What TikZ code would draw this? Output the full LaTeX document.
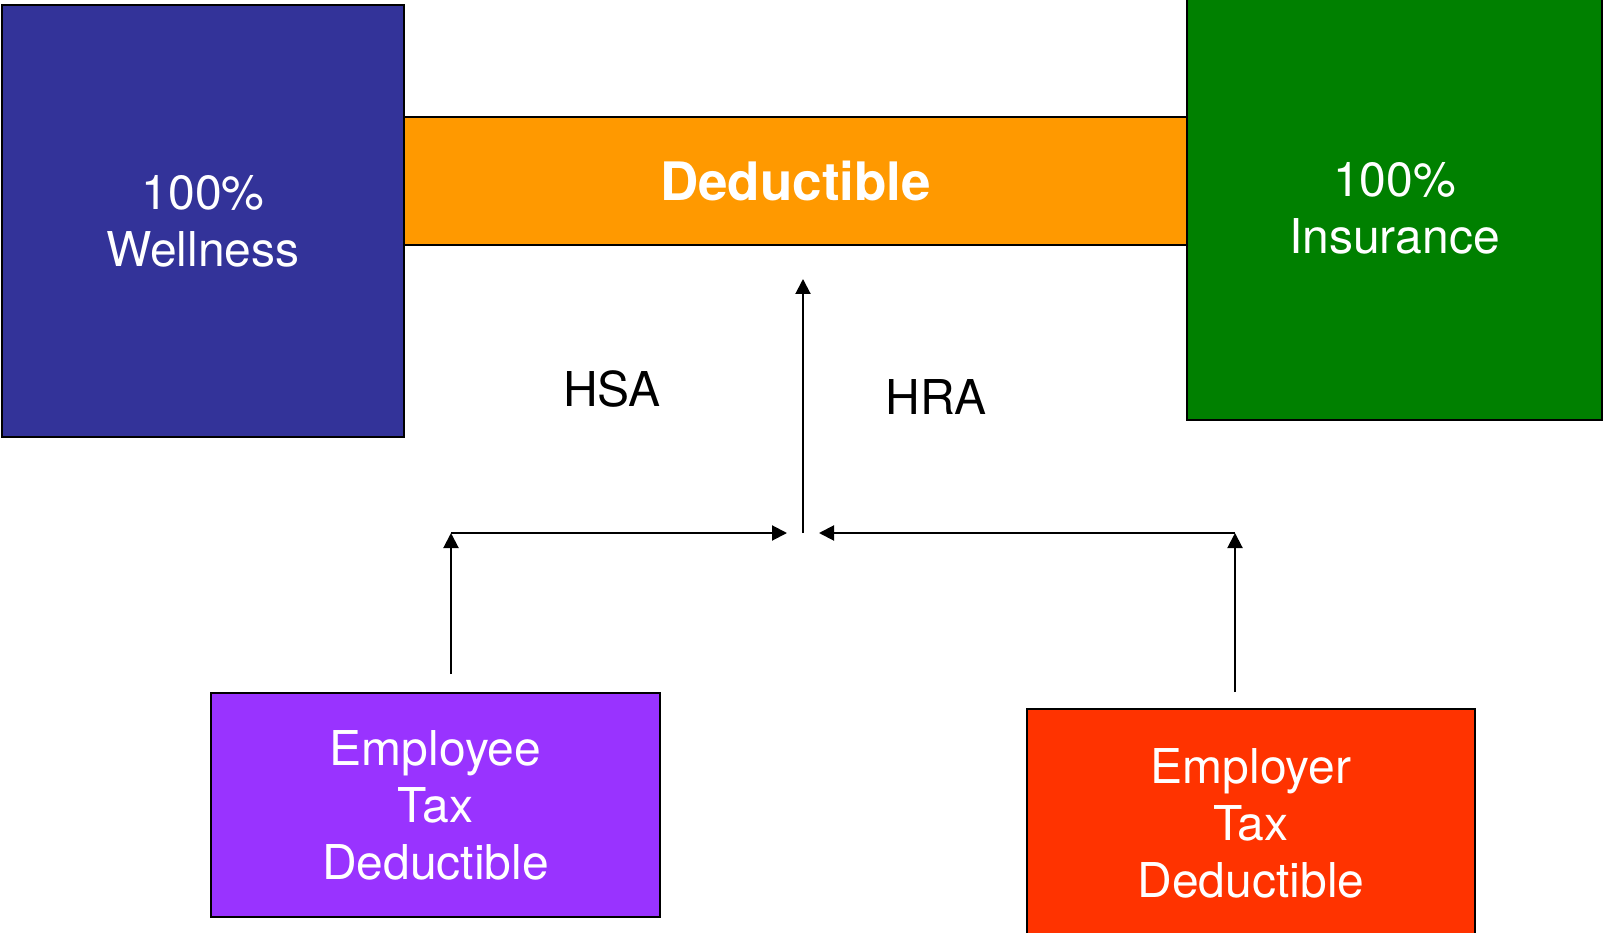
\documentclass[tikz,border=0pt]{standalone}
\usepackage{fontspec}
\setmainfont{TeX Gyre Heros}
\usepackage{tikz}
\usetikzlibrary{arrows.meta}
\usetikzlibrary{calc}

\definecolor{wellblue}{HTML}{333399}
\definecolor{dedorange}{HTML}{FF9900}
\definecolor{insgreen}{HTML}{008000}
\definecolor{eepurple}{HTML}{9933FF}
\definecolor{erred}{HTML}{FF3300}

\begin{document}
\begin{tikzpicture}[x=1pt, y=-1pt,
	box/.style={draw=black, line width=2pt, inner sep=0pt, align=center, text=white,
		font=\fontsize{48}{57}\selectfont},
	flow/.style={line width=2pt, -{Triangle[length=15pt,width=15pt]}},
	lbl/.style={font=\fontsize{48}{57}\selectfont}]
\useasboundingbox (0,0) rectangle (1604,933);

\node[box, fill=wellblue, minimum width=402pt, minimum height=432pt] (well) at (203,221) {100\%\\Wellness};
\node[box, fill=dedorange, minimum width=783pt, minimum height=128pt,
	font=\fontsize{53}{60}\selectfont\bfseries] (ded) at (795.5,181) {Deductible};
\node[box, fill=insgreen, minimum width=415pt, minimum height=424pt] (ins) at (1394.5,208) {100\%\\Insurance};
\node[box, fill=eepurple, minimum width=449pt, minimum height=224pt] (ee) at (435.5,805) {Employee\\Tax\\Deductible};
\node[box, fill=erred, minimum width=448pt, minimum height=228pt] (er) at (1251,823) {Employer\\Tax\\Deductible};

\node[lbl] (hsa) at (612,389) {HSA};
\node[lbl] (hra) at (936,397) {HRA};

\coordinate (hub) at (803,533);
\coordinate (lcorner) at (451,533);
\coordinate (rcorner) at (1235,533);
\coordinate (top) at ($(ded.south -| hub)+(0,33)$);

\draw[flow] (hub) -- (top);
\draw[flow, shorten <=18pt] (ee.north -| lcorner) -- (lcorner);
\draw[flow, shorten >=16pt] (lcorner) -- (hub);
\draw[flow, shorten <=16pt] (er.north -| rcorner) -- (rcorner);
\draw[flow, shorten >=16pt] (rcorner) -- (hub);
\end{tikzpicture}
\end{document}
